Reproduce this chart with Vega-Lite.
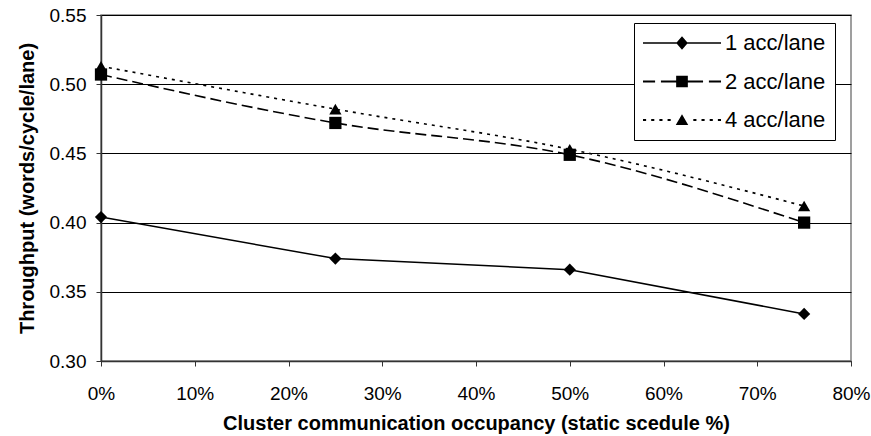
{
  "$schema": "https://vega.github.io/schema/vega-lite/v6.json",
  "width": 750,
  "height": 346,
  "autosize": {"type": "none"},
  "padding": {"left": 101, "top": 15, "right": 20, "bottom": 75},
  "background": "white",
  "config": {
    "font": "Liberation Sans",
    "view": {"stroke": "#808080", "strokeWidth": 1.5},
    "axis": {
      "labelFont": "Liberation Sans",
      "labelFontSize": 19,
      "labelColor": "black",
      "titleFont": "Liberation Sans",
      "titleFontSize": 20,
      "titleFontWeight": "bold",
      "titleColor": "black",
      "tickColor": "#333333",
      "domainColor": "#333333",
      "domainWidth": 1.5,
      "tickSize": 5
    }
  },
  "data": {
    "values": [
      {"occ": 0, "tp": 0.404, "series": "1 acc/lane"},
      {"occ": 25, "tp": 0.374, "series": "1 acc/lane"},
      {"occ": 50, "tp": 0.366, "series": "1 acc/lane"},
      {"occ": 75, "tp": 0.334, "series": "1 acc/lane"},
      {"occ": 0, "tp": 0.507, "series": "2 acc/lane"},
      {"occ": 25, "tp": 0.472, "series": "2 acc/lane"},
      {"occ": 50, "tp": 0.449, "series": "2 acc/lane"},
      {"occ": 75, "tp": 0.400, "series": "2 acc/lane"},
      {"occ": 0, "tp": 0.513, "series": "4 acc/lane"},
      {"occ": 25, "tp": 0.482, "series": "4 acc/lane"},
      {"occ": 50, "tp": 0.453, "series": "4 acc/lane"},
      {"occ": 75, "tp": 0.412, "series": "4 acc/lane"}
    ]
  },
  "encoding": {
    "x": {
      "field": "occ",
      "type": "quantitative",
      "scale": {"domain": [0, 80], "nice": false},
      "axis": {
        "values": [0, 10, 20, 30, 40, 50, 60, 70, 80],
        "labelExpr": "datum.value + '%'",
        "labelFlush": false,
        "labelOverlap": false,
        "grid": false,
        "labelPadding": 18,
        "titlePadding": 10,
        "title": "Cluster communication occupancy (static scedule %)"
      }
    },
    "y": {
      "field": "tp",
      "type": "quantitative",
      "scale": {"domain": [0.3, 0.55], "nice": false, "zero": false},
      "axis": {
        "values": [0.3, 0.35, 0.4, 0.45, 0.5, 0.55],
        "format": ".2f",
        "labelFlush": false,
        "labelOverlap": false,
        "grid": true,
        "gridColor": "black",
        "gridWidth": 1,
        "labelPadding": 10,
        "titlePadding": 12,
        "title": "Throughput (words/cycle/lane)"
      }
    }
  },
  "resolve": {"scale": {"shape": "independent"}, "legend": {"shape": "independent"}},
  "layer": [
    {
      "transform": [{"filter": "datum.series == '1 acc/lane'"}],
      "mark": {"type": "line", "interpolate": "linear", "color": "black", "strokeWidth": 1.5},
      "encoding": {}
    },
    {
      "transform": [{"filter": "datum.series == '2 acc/lane'"}],
      "mark": {"type": "line", "interpolate": "monotone", "color": "black", "strokeWidth": 1.6, "strokeDash": [11, 5]},
      "encoding": {}
    },
    {
      "transform": [{"filter": "datum.series == '4 acc/lane'"}],
      "mark": {"type": "line", "interpolate": "monotone", "color": "black", "strokeWidth": 1.6, "strokeDash": [3, 5]},
      "encoding": {}
    },
    {
      "mark": {"type": "point", "filled": true, "color": "black", "opacity": 1, "size": 150},
      "encoding": {
        "shape": {
          "field": "series",
          "type": "nominal",
          "scale": {"domain": ["1 acc/lane", "2 acc/lane", "4 acc/lane"], "range": ["diamond", "square", "triangle-up"]},
          "legend": null
        }
      }
    },
    {
      "transform": [{"filter": "datum.occ < 0"}],
      "mark": {"type": "point", "filled": true, "color": "black", "opacity": 1, "size": 150},
      "encoding": {
        "shape": {
          "field": "series",
          "type": "nominal",
          "scale": {
            "domain": ["1 acc/lane", "2 acc/lane", "4 acc/lane"],
            "range": [
              "M-1,-0.022L1,-0.022L1,0.022L-1,0.022ZM0,-0.17L0.15,0L0,0.17L-0.15,0Z",
              "M-1,-0.025L-0.69,-0.025L-0.69,0.025L-1,0.025ZM-0.54,-0.025L-0.15,-0.025L-0.15,0.025L-0.54,0.025ZM0.15,-0.025L0.54,-0.025L0.54,0.025L0.15,0.025ZM0.69,-0.025L1,-0.025L1,0.025L0.69,0.025ZM-0.15,-0.15L0.15,-0.15L0.15,0.15L-0.15,0.15Z",
              "M-1,-0.025L-0.92,-0.025L-0.92,0.025L-1,0.025ZM-0.79,-0.025L-0.71,-0.025L-0.71,0.025L-0.79,0.025ZM-0.58,-0.025L-0.5,-0.025L-0.5,0.025L-0.58,0.025ZM-0.37,-0.025L-0.29,-0.025L-0.29,0.025L-0.37,0.025ZM0.29,-0.025L0.37,-0.025L0.37,0.025L0.29,0.025ZM0.5,-0.025L0.58,-0.025L0.58,0.025L0.5,0.025ZM0.71,-0.025L0.79,-0.025L0.79,0.025L0.71,0.025ZM0.92,-0.025L1,-0.025L1,0.025L0.92,0.025ZM0,-0.15L0.16,0.13L-0.16,0.13Z"
            ]
          },
          "legend": {
            "title": null,
            "orient": "none",
            "legendX": 533,
            "legendY": 8,
            "strokeColor": "black",
            "fillColor": "white",
            "padding": 9,
            "symbolSize": 6084,
            "clipHeight": 22,
            "symbolStrokeWidth": 0,
            "symbolFillColor": "black",
            "symbolOpacity": 1,
            "labelFont": "Liberation Sans",
            "labelFontSize": 22,
            "labelColor": "black",
            "labelOffset": 4,
            "labelLimit": 300,
            "rowPadding": 16.5,
            "encode": {
              "symbols": {
                "fill": {"value": "black"},
                "stroke": {"value": "transparent"},
                "opacity": {"value": 1}
              }
            }
          }
        }
      }
    }
  ]
}
